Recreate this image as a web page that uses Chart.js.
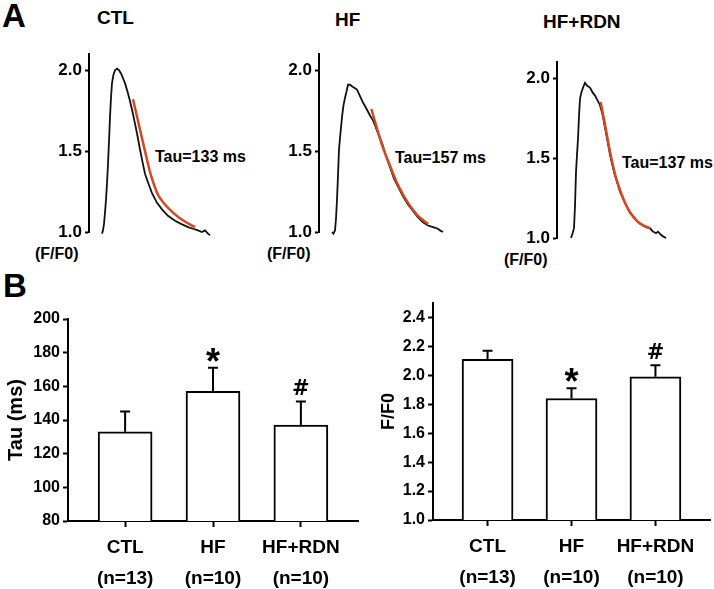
<!DOCTYPE html>
<html>
<head>
<meta charset="utf-8">
<script src="https://cdn.jsdelivr.net/npm/chart.js@4.4.1/dist/chart.umd.min.js"></script>
<style>
  body { margin: 0; background: #fff; width: 714px; height: 589px; overflow: hidden; position: relative;
         font-family: "Liberation Sans", Arial, sans-serif; font-weight: bold; color: #000; }
  canvas { position: absolute; }
  .lbl { position: absolute; white-space: nowrap; line-height: 1; }
</style>
</head>
<body>
<div class="lbl" style="left:2px;top:-1px;font-size:33px">A</div>
<div class="lbl" style="left:3px;top:269px;font-size:33px">B</div>
<div class="lbl" style="left:97px;top:8px;font-size:19px">CTL</div>
<div class="lbl" style="left:335px;top:10px;font-size:19px">HF</div>
<div class="lbl" style="left:543px;top:12px;font-size:19px">HF+RDN</div>
<div class="lbl" style="left:155px;top:149px;font-size:16px">Tau=133 ms</div>
<div class="lbl" style="left:395px;top:150px;font-size:16px">Tau=157 ms</div>
<div class="lbl" style="left:622px;top:155px;font-size:16px">Tau=137 ms</div>
<div class="lbl" style="left:35px;top:246px;font-size:16px">(F/F0)</div>
<div class="lbl" style="left:267px;top:246px;font-size:16px">(F/F0)</div>
<div class="lbl" style="left:504px;top:252px;font-size:16px">(F/F0)</div>

<canvas id="ctlTrace" width="240" height="210" style="left:0;top:40px"></canvas>
<canvas id="hfTrace" width="240" height="210" style="left:240px;top:40px"></canvas>
<canvas id="rdnTrace" width="240" height="220" style="left:474px;top:40px"></canvas>
<canvas id="tauChart" width="362" height="289" style="left:0;top:300px"></canvas>
<canvas id="ampChart" width="352" height="299" style="left:362px;top:290px"></canvas>

<script>
// ---- Panel A: calcium transients (time in ms, F/F0) ----
const ctlTime = [65,70,75,80,85,90,95,100,105,110,115,122,130,140,150,160,170,180,192,205,218,230,243,255,268,280,297,315,340,365,395,430,460,495,520,545,565,580,595,605];
const ctlF    = [0.99,1.01,1.05,1.12,1.20,1.30,1.42,1.56,1.71,1.83,1.92,1.97,2.00,2.01,2.00,1.98,1.95,1.92,1.87,1.81,1.74,1.67,1.59,1.51,1.43,1.36,1.30,1.24,1.18,1.14,1.10,1.07,1.05,1.03,1.02,1.01,1.00,1.01,0.99,0.98];
const ctlFitTime = [220,250,280,310,345,380,420,460,500,530];
const ctlFit     = [1.82,1.66,1.50,1.35,1.23,1.17,1.12,1.08,1.05,1.03];

const hfTime = [65,72,80,85,90,95,100,108,115,122,130,138,145,155,165,178,190,205,220,238,255,270,280,298,315,335,355,375,395,420,445,470,495,520,545,570,595,605,620];
const hfF    = [1.00,0.99,1.01,1.08,1.20,1.35,1.51,1.62,1.71,1.78,1.83,1.87,1.91,1.91,1.90,1.89,1.88,1.84,1.80,1.76,1.72,1.69,1.66,1.60,1.55,1.47,1.40,1.33,1.28,1.22,1.17,1.13,1.09,1.06,1.04,1.03,1.02,1.01,1.00];
const hfFitTime = [262,290,320,355,395,445,495,545];
const hfFit     = [1.76,1.64,1.52,1.41,1.29,1.18,1.10,1.05];

const rdnTime = [70,78,85,90,95,100,105,110,115,122,130,140,152,165,178,190,203,215,228,240,252,265,278,290,303,315,340,365,390,415,440,465,480,495,505,520,530,545];
const rdnF    = [1.00,1.03,1.06,1.20,1.41,1.52,1.62,1.76,1.87,1.91,1.94,1.97,1.95,1.94,1.91,1.89,1.86,1.83,1.77,1.69,1.61,1.52,1.45,1.39,1.34,1.29,1.22,1.16,1.12,1.09,1.07,1.06,1.04,1.03,1.04,1.02,1.01,1.00];
const rdnFitTime = [218,240,265,290,315,340,365,415,465];
const rdnFit     = [1.85,1.71,1.54,1.40,1.30,1.22,1.16,1.09,1.06];

const traceTicks = [1.0, 1.5, 2.0];

// ---- Panel B: group summaries ----
const groups  = ['CTL', 'HF', 'HF+RDN'];
const groupN  = ['(n=13)', '(n=10)', '(n=10)'];
const tauMean = [133, 157, 137];
const tauErr  = [12, 14, 14];
const tauMarks = ['', '*', '#'];
const ampMean = [2.11, 1.84, 1.99];
const ampErr  = [0.06, 0.07, 0.08];
const ampMarks = ['', '*', '#'];

const FONT = '"Liberation Sans", Arial, sans-serif';
const toXY = (xs, ys) => xs.map((x, i) => ({x: x, y: ys[i]}));

// upward error bars + significance marks
const errorBars = {
  id: 'errorBars',
  afterDatasetsDraw(chart, args, opts) {
    if (!opts.mean) return;
    const ctx = chart.ctx;
    const y = chart.scales.y;
    const meta = chart.getDatasetMeta(0);
    ctx.save();
    ctx.strokeStyle = '#000';
    ctx.lineWidth = 2;
    meta.data.forEach((bar, i) => {
      const top = y.getPixelForValue(opts.mean[i] + opts.err[i]);
      ctx.beginPath();
      ctx.moveTo(bar.x, bar.y);
      ctx.lineTo(bar.x, top);
      ctx.moveTo(bar.x - 5, top);
      ctx.lineTo(bar.x + 5, top);
      ctx.stroke();
      const m = opts.marks[i];
      if (m) {
        ctx.fillStyle = '#000';
        ctx.font = m === '*' ? 'bold 36px ' + FONT : 'bold 21px "DejaVu Sans", sans-serif';
        ctx.textAlign = 'center';
        ctx.textBaseline = 'alphabetic';
        const d = ctx.measureText(m).actualBoundingBoxDescent;
        ctx.fillText(m, bar.x, top - 6 - d);
      }
    });
    ctx.restore();
  }
};

function traceChart(id, time, f, fitTime, fit, yWidth, pad, maxY) {
  new Chart(document.getElementById(id), {
    type: 'line',
    data: {
      datasets: [
        { data: toXY(fitTime, fit), borderColor: '#d4471f', borderWidth: 2.5, pointRadius: 0, tension: 0.3, clip: false },
        { data: toXY(time, f), borderColor: '#111', borderWidth: 1.8, pointRadius: 0, tension: 0, clip: false }
      ]
    },
    options: {
      responsive: false,
      animation: false,
      layout: { padding: pad },
      plugins: { legend: { display: false }, tooltip: { enabled: false } },
      scales: {
        x: { type: 'linear', display: false, min: 0, max: 700 },
        y: {
          min: 1.0, max: maxY,
          afterFit: s => { s.width = yWidth; },
          afterBuildTicks: s => { s.ticks = traceTicks.map(v => ({value: v})); },
          border: { display: true, color: '#000', width: 2 },
          grid: { drawOnChartArea: false, drawTicks: true, tickLength: 4, tickColor: '#000', tickWidth: 2 },
          ticks: { color: '#000', padding: 3, font: { family: FONT, size: 17, weight: 'bold' },
                   callback: v => v.toFixed(1) }
        }
      }
    }
  });
}

traceChart('ctlTrace', ctlTime, ctlF, ctlFitTime, ctlFit, 89, {top: 14, bottom: 18, right: 11, left: 0}, 2.1);
traceChart('hfTrace', hfTime, hfF, hfFitTime, hfFit, 79, {top: 14, bottom: 18, right: 21, left: 0}, 2.1);
traceChart('rdnTrace', rdnTime, rdnF, rdnFitTime, rdnFit, 83, {top: 22, bottom: 22, right: 17, left: 0}, 2.1);

function barChart(id, mean, err, marks, yOpts, yWidth, xHeight, pad, barW) {
  new Chart(document.getElementById(id), {
    type: 'bar',
    data: {
      datasets: [{
        data: mean.map((v, i) => ({x: i + 1, y: v})),
        backgroundColor: '#fff',
        borderColor: '#000',
        borderWidth: 2,
        barThickness: barW
      }]
    },
    options: {
      responsive: false,
      animation: false,
      layout: { padding: pad },
      plugins: {
        legend: { display: false },
        tooltip: { enabled: false },
        errorBars: { mean: mean, err: err, marks: marks }
      },
      scales: {
        x: {
          type: 'linear', min: 0.35, max: 3.65, offset: false,
          afterFit: s => { s.height = xHeight; },
          afterBuildTicks: s => { s.ticks = groups.map((g, i) => ({value: i + 1})); },
          border: { display: true, color: '#000', width: 2 },
          grid: { offset: false, drawOnChartArea: false, drawTicks: true, tickLength: 6, tickColor: '#000', tickWidth: 2 },
          ticks: { autoSkip: false, maxRotation: 0, color: '#000', padding: 6,
                   font: { family: FONT, size: 19, weight: 'bold', lineHeight: 1.6 },
                   callback: (v, i) => [groups[i], groupN[i]] }
        },
        y: Object.assign({
          afterFit: s => { s.width = yWidth; },
          border: { display: true, color: '#000', width: 2 },
          grid: { drawOnChartArea: false, drawTicks: true, tickLength: 5, tickColor: '#000', tickWidth: 2 }
        }, yOpts)
      }
    },
    plugins: [errorBars]
  });
}

barChart('tauChart', tauMean, tauErr, tauMarks, {
  min: 80, max: 200,
  ticks: { stepSize: 20, color: '#000', padding: 3, font: { family: FONT, size: 16, weight: 'bold' } },
  title: { display: true, text: 'Tau (ms)', color: '#000', padding: { top: 4, bottom: 0 },
           font: { family: FONT, size: 20, weight: 'bold' } }
}, 68, 68, {top: 19, right: 4, bottom: 0, left: 0}, 54);

barChart('ampChart', ampMean, ampErr, ampMarks, {
  min: 1.0, max: 2.5,
  ticks: { stepSize: 0.2, includeBounds: false, color: '#000', padding: 3,
           font: { family: FONT, size: 16, weight: 'bold' }, callback: v => v.toFixed(1) },
  title: { display: true, text: 'F/F0', color: '#000', padding: { top: 16, bottom: 0 },
           font: { family: FONT, size: 18, weight: 'bold' } }
}, 71, 69, {top: 13, right: 4, bottom: 0, left: 0}, 51);
</script>
</body>
</html>
